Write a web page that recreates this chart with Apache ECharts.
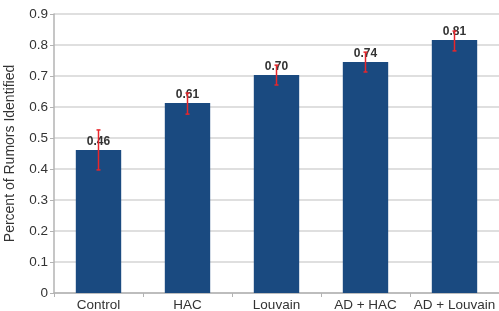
<!DOCTYPE html>
<html>
<head>
<meta charset="utf-8">
<script src="https://cdn.jsdelivr.net/npm/echarts@6/dist/echarts.min.js"></script>
<style>
    html, body { margin: 0; padding: 0; background: #fff; }
    #chart { width: 499px; height: 311px; }
</style>
</head>
<body>
<div id="chart"></div>
<script>
const categories = ['Control', 'HAC', 'Louvain', 'AD + HAC', 'AD + Louvain'];
const values = [0.461, 0.613, 0.703, 0.745, 0.816];
const labels = ['0.46', '0.61', '0.70', '0.74', '0.81'];
const errLow = [0.397, 0.577, 0.671, 0.713, 0.781];
const errHigh = [0.526, 0.645, 0.735, 0.777, 0.845];
const yTicks = ['0', '0.1', '0.2', '0.3', '0.4', '0.5', '0.6', '0.7', '0.8', '0.9'];

const chart = echarts.init(document.getElementById('chart'));

// 误差线数据
const errData = categories.map((c, i) => [i, errLow[i], errHigh[i]]);

const option = {
    animation: false,
    textStyle: { fontFamily: 'Liberation Sans' },
    grid: { left: 54, right: 0, top: 14, bottom: 18, outerBoundsMode: 'none', containLabel: false },
    xAxis: {
        type: 'category',
        data: categories,
        axisLine: { lineStyle: { color: '#b3b3b3', width: 1.5 } },
        axisTick: { show: true, alignWithLabel: false, length: 4, lineStyle: { color: '#b3b3b3' } },
        axisLabel: { color: '#333', fontSize: 13.5, margin: 5, interval: 0 },
    },
    yAxis: {
        type: 'value',
        min: 0,
        max: 0.9,
        interval: 0.1,
        name: 'Percent of Rumors Identified',
        nameLocation: 'middle',
        nameGap: 37,
        nameTextStyle: { color: '#333', fontSize: 14 },
        axisLine: { show: true, lineStyle: { color: '#b3b3b3', width: 1.5 } },
        axisTick: { show: true, length: 4, lineStyle: { color: '#b3b3b3' } },
        axisLabel: {
            color: '#333',
            fontSize: 13.5,
            margin: 6,
            formatter: (v) => yTicks[Math.round(v * 10)],
        },
        splitLine: { lineStyle: { color: '#d4d4d4', width: 1.5 } },
    },
    series: [
        {
            type: 'bar',
            data: values,
            barWidth: '51%',
            itemStyle: { color: '#1a4a80' },
            label: {
                show: true,
                position: 'top',
                distance: 2,
                color: '#333',
                fontSize: 12,
                fontWeight: 'bold',
                formatter: (p) => labels[p.dataIndex],
            },
            z: 2,
        },
        {
            type: 'custom',
            data: errData,
            z: 3,
            renderItem: (params, api) => {
                const lo = api.coord([api.value(0), api.value(1)]);
                const hi = api.coord([api.value(0), api.value(2)]);
                const x = lo[0];
                const cap = 2;
                const style = { stroke: '#e8262b', lineWidth: 1.5 };
                return {
                    type: 'group',
                    children: [
                        { type: 'line', shape: { x1: x, y1: lo[1], x2: x, y2: hi[1] }, style },
                        { type: 'line', shape: { x1: x - cap, y1: lo[1], x2: x + cap, y2: lo[1] }, style },
                        { type: 'line', shape: { x1: x - cap, y1: hi[1], x2: x + cap, y2: hi[1] }, style },
                    ],
                };
            },
        },
    ],
};

chart.setOption(option);
</script>
</body>
</html>
